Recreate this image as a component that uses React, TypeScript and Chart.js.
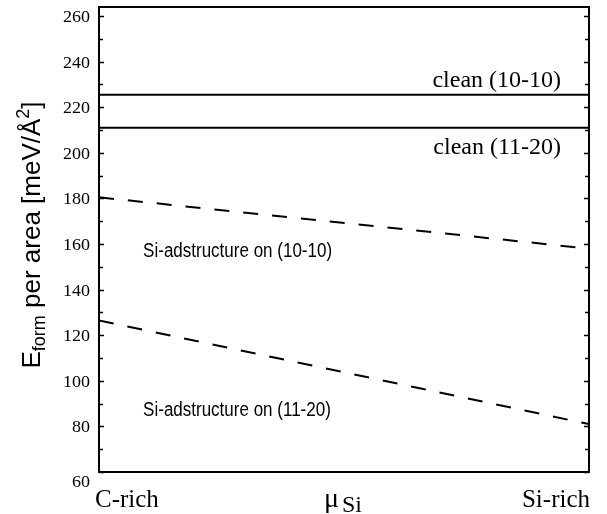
import React, { useEffect, useRef } from "react";
import { Chart, registerables } from "chart.js";

Chart.register(...registerables);

// ---- data ----
const xPositions = [0, 1]; // C-rich -> Si-rich (chemical potential of Si)
const clean1010 = [225.5, 225.5];
const clean1120 = [211, 211];
const adstructure1010 = [180.5, 158];
const adstructure1120 = [126.5, 81];
const yTickValues = [60, 80, 100, 120, 140, 160, 180, 200, 220, 240, 260];
const yMinorValues = [70, 90, 110, 130, 150, 170, 190, 210, 230, 250];
const xEndLabels = ["C-rich", "Si-rich"];
const seriesLabels = [
  "clean (10-10)",
  "clean (11-20)",
  "Si-adstructure on (10-10)",
  "Si-adstructure on (11-20)",
];

const SERIF = "'Liberation Serif', 'Times New Roman', serif";
const SANS = "'Liberation Sans', Arial, Helvetica, sans-serif";

function toPoints(vals: number[]) {
  return vals.map((v, i) => ({ x: xPositions[i], y: v }));
}

function drawText(
  ctx: CanvasRenderingContext2D,
  text: string,
  x: number,
  y: number,
  font: string,
  align: CanvasTextAlign,
  sx = 1
) {
  ctx.save();
  ctx.font = font;
  ctx.textAlign = align;
  ctx.textBaseline = "alphabetic";
  ctx.translate(x, y);
  ctx.scale(sx, 1);
  ctx.fillText(text, 0, 0);
  ctx.restore();
}

const decorPlugin = {
  id: "decor",
  afterDraw(chart: any) {
    const ctx: CanvasRenderingContext2D = chart.ctx;
    const { left, right, top, bottom } = chart.chartArea;
    const ys = chart.scales.y;
    const xs = chart.scales.x;
    ctx.save();
    ctx.fillStyle = "#000";
    ctx.strokeStyle = "#000";

    // frame
    ctx.lineWidth = 2;
    ctx.strokeRect(left, top, right - left, bottom - top);

    // inward ticks on both sides
    ctx.lineWidth = 1.5;
    const tickAt = (v: number, len: number) => {
      const p = Math.round(ys.getPixelForValue(v)) + 0.5;
      ctx.beginPath();
      ctx.moveTo(left, p);
      ctx.lineTo(left + len, p);
      ctx.moveTo(right, p);
      ctx.lineTo(right - len, p);
      ctx.stroke();
    };
    yTickValues.forEach((v) => tickAt(v, 5));
    yMinorValues.forEach((v) => tickAt(v, 4));

    // y tick labels
    yTickValues.forEach((v) => {
      const p = ys.getPixelForValue(v);
      const off = v === 60 ? 9 : 0;
      drawText(ctx, String(v), left - 9, p + 6 + off, `17px ${SERIF}`, "right", 1.06);
    });

    // x end labels
    drawText(ctx, xEndLabels[0], xs.getPixelForValue(0) - 4, bottom + 35, `25px ${SERIF}`, "left");
    drawText(ctx, xEndLabels[1], xs.getPixelForValue(1) + 1, bottom + 35, `25px ${SERIF}`, "right");

    // x title: mu_Si
    const mx = (left + right) / 2 - 20;
    drawText(ctx, "\u03bc", mx, bottom + 35, `28px ${SERIF}`, "left");
    ctx.font = `28px ${SERIF}`;
    const mw = ctx.measureText("\u03bc").width;
    drawText(ctx, "Si", mx + mw + 3, bottom + 40, `24px ${SERIF}`, "left");

    // series annotations
    drawText(ctx, seriesLabels[0], xs.getPixelForValue(0.943), ys.getPixelForValue(225.5) - 8, `24px ${SERIF}`, "right");
    drawText(ctx, seriesLabels[1], xs.getPixelForValue(0.943), ys.getPixelForValue(211) + 26, `24px ${SERIF}`, "right");
    drawText(ctx, seriesLabels[2], xs.getPixelForValue(0.09), ys.getPixelForValue(154.5), `20px ${SANS}`, "left", 0.85);
    drawText(ctx, seriesLabels[3], xs.getPixelForValue(0.09), ys.getPixelForValue(84.5), `20px ${SANS}`, "left", 0.85);

    // y title: E_form per area [meV/Å^2]
    ctx.save();
    ctx.translate(40, 235);
    ctx.rotate(-Math.PI / 2);
    const big = `26px ${SANS}`;
    const small = `18px ${SANS}`;
    const parts: [string, string, number][] = [
      ["E", big, 0],
      ["form", small, 5],
      [" per area [meV/\u00c5", big, 0],
      ["2", small, -11],
      ["]", big, 0],
    ];
    let total = 0;
    parts.forEach(([t, f]) => {
      ctx.font = f;
      total += ctx.measureText(t).width;
    });
    let x = -total / 2;
    ctx.textBaseline = "alphabetic";
    ctx.textAlign = "left";
    parts.forEach(([t, f, dy]) => {
      ctx.font = f;
      ctx.fillText(t, x, dy);
      x += ctx.measureText(t).width;
    });
    ctx.restore();

    ctx.restore();
  },
};

export default function App() {
  const ref = useRef<HTMLCanvasElement | null>(null);
  useEffect(() => {
    if (!ref.current) return;
    const solid = { borderColor: "#000", borderWidth: 2, pointRadius: 0, fill: false, tension: 0 };
    const dashed = { ...solid, borderDash: [15, 14] };
    const chart = new Chart(ref.current, {
      type: "line",
      data: {
        datasets: [
          { label: seriesLabels[0], data: toPoints(clean1010), ...solid },
          { label: seriesLabels[1], data: toPoints(clean1120), ...solid },
          { label: seriesLabels[2], data: toPoints(adstructure1010), ...dashed },
          { label: seriesLabels[3], data: toPoints(adstructure1120), ...dashed },
        ],
      },
      options: {
        responsive: false,
        animation: false,
        layout: { padding: { left: 99, right: 18, top: 7, bottom: 42 } },
        plugins: { legend: { display: false }, tooltip: { enabled: false } },
        scales: {
          x: { type: "linear", min: 0, max: 1, display: false },
          y: { type: "linear", min: 60, max: 264, display: false },
        },
      },
      plugins: [decorPlugin],
    });
    return () => chart.destroy();
  }, []);
  return (
    <div style={{ position: "absolute", left: 0, top: 0, width: 607, height: 514, background: "#fff" }}>
      <canvas ref={ref} width={607} height={514} style={{ display: "block" }} />
    </div>
  );
}
